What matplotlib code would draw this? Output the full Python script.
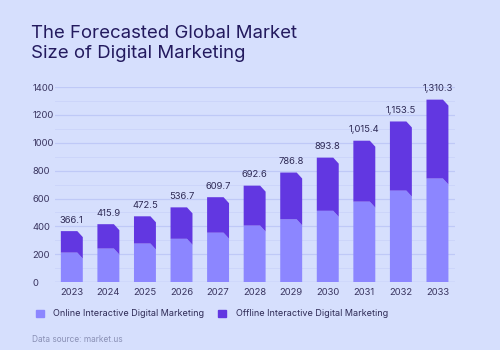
import matplotlib
matplotlib.use("Agg")
import matplotlib.pyplot as plt
from matplotlib.patches import Patch

years = ["2023", "2024", "2025", "2026", "2027", "2028", "2029", "2030", "2031", "2032", "2033"]
totals = [366.1, 415.9, 472.5, 536.7, 609.7, 692.6, 786.8, 893.8, 1015.4, 1153.5, 1310.3]
online = [212, 241, 277, 311, 355, 406, 451, 512, 578, 657, 744]
total_labels = ["366.1", "415.9", "472.5", "536.7", "609.7", "692.6", "786.8",
                "893.8", "1,015.4", "1,153.5", "1,310.3"]

bg = "#D6DFFD"
c_online = "#8C86FF"
c_offline = "#6237E1"
navy = "#231A5E"
grid_major = "#BFC9F7"
grid_minor = "#CCD5FA"

plt.rcParams["font.family"] = ["Inter", "DejaVu Sans"]

fig = plt.figure(figsize=(5, 3.5), dpi=100, facecolor=bg)
ax = fig.add_axes([0.11, 0.194, 0.80, 0.557])
ax.set_facecolor(bg)

# bars with a slanted right edge (fake 3d look)
half = 0.3
cut = 0.15
drop = 43
for i, (tot, on) in enumerate(zip(totals, online)):
    x0, xs, x1 = i - half, i + cut, i + half
    ax.fill([x0, x0, xs, x1, x1], [0, on, on, on - drop, 0],
            color=c_online, lw=0, zorder=3)
    ax.fill([x0, x0, xs, x1, x1, xs], [on, tot, tot, tot - drop, on - drop, on],
            color=c_offline, lw=0, zorder=3)
    ax.text(i, tot + 45, total_labels[i], ha="center", va="bottom",
            fontsize=6.8, color="#2E2A55", zorder=4)

ax.set_xlim(-0.46, 10.48)
ax.set_ylim(0, 1400)
ax.set_xticks(range(len(years)))
ax.set_xticklabels(years)
ax.set_yticks(range(0, 1401, 200))
ax.set_yticks(range(100, 1400, 200), minor=True)
ax.tick_params(axis="both", length=0, labelsize=6.8, labelcolor="#3A3560")
ax.tick_params(axis="y", which="minor", length=0)
ax.tick_params(axis="y", pad=16)
ax.tick_params(axis="x", pad=4)
for lab in ax.get_yticklabels():
    lab.set_horizontalalignment("left")
ax.grid(axis="y", which="major", color=grid_major, lw=0.9, zorder=0)
ax.grid(axis="y", which="minor", color=grid_minor, lw=0.7, zorder=0)
for s in ax.spines.values():
    s.set_visible(False)
ax.axhline(0, color=grid_major, lw=1.0, zorder=2)

fig.text(0.062, 0.93, "The Forecasted Global Market\nSize of Digital Marketing",
         ha="left", va="top", fontsize=13.4, color=navy, fontweight="normal",
         linespacing=1.3)

handles = [Patch(color=c_online, label="Online Interactive Digital Marketing"),
           Patch(color=c_offline, label="Offline Interactive Digital Marketing")]
fig.legend(handles=handles, loc="center left", bbox_to_anchor=(0.055, 0.103),
           ncol=2, frameon=False, fontsize=6.5, handlelength=0.9, handleheight=0.9,
           columnspacing=1.6, handletextpad=1.0, labelcolor="#2E2A55")

fig.text(0.064, 0.018, "Data source: market.us", ha="left", va="bottom",
         fontsize=6, color="#8A90B5")

fig.savefig("out.png", dpi=100, facecolor=bg)
